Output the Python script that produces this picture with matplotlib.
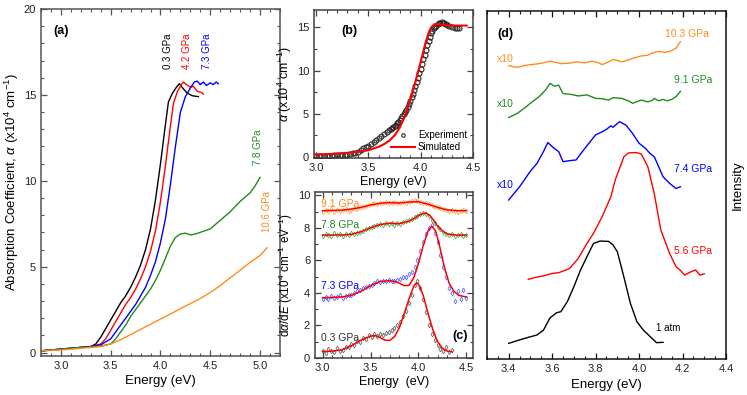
import numpy as np
import matplotlib
matplotlib.use('Agg')
import matplotlib.pyplot as plt
from matplotlib.ticker import MultipleLocator, NullLocator

plt.rcParams['font.family'] = ['Liberation Sans', 'DejaVu Sans']
plt.rcParams['mathtext.fontset'] = 'custom'
plt.rcParams['mathtext.rm'] = 'Liberation Sans'
plt.rcParams['mathtext.it'] = 'Liberation Sans:italic'

ORANGE = '#ff8c1a'
GREEN = '#1f8a1f'

# ---- panel (a): absorption coefficient vs energy
a_E_03 = [2.8, 3.0, 3.2, 3.3, 3.35, 3.4, 3.45, 3.5, 3.55, 3.6, 3.65, 3.7, 3.75, 3.8, 3.85,
          3.9, 3.95, 4.0, 4.05, 4.08, 4.12, 4.16, 4.19, 4.23, 4.27, 4.32, 4.38]
a_03 = [0.1, 0.2, 0.3, 0.35, 0.5, 0.9, 1.4, 1.9, 2.4, 2.9, 3.3, 3.8, 4.4, 5.1, 6.0,
        7.2, 8.9, 11.0, 13.3, 14.6, 15.1, 15.45, 15.65, 15.35, 15.1, 14.95, 14.9]
a_E_42 = [2.8, 3.0, 3.2, 3.3, 3.4, 3.45, 3.5, 3.55, 3.6, 3.65, 3.7, 3.75, 3.8, 3.85, 3.9,
          3.95, 4.0, 4.05, 4.1, 4.13, 4.17, 4.21, 4.23, 4.26, 4.3, 4.33, 4.37, 4.41, 4.43]
a_42 = [0.1, 0.2, 0.3, 0.35, 0.5, 0.8, 1.3, 1.8, 2.3, 2.8, 3.2, 3.7, 4.3, 5.0, 5.9,
        7.1, 8.8, 10.9, 13.2, 14.5, 15.2, 15.6, 15.75, 15.6, 15.45, 15.5, 15.2, 15.15, 15.05]
a_E_73 = [2.8, 3.0, 3.2, 3.3, 3.4, 3.5, 3.55, 3.6, 3.65, 3.7, 3.75, 3.8, 3.85, 3.9, 3.95,
          4.0, 4.05, 4.1, 4.15, 4.2, 4.25, 4.3, 4.34, 4.37, 4.4, 4.43, 4.46, 4.5, 4.53, 4.56, 4.58]
a_73 = [0.1, 0.2, 0.3, 0.35, 0.45, 0.8, 1.2, 1.6, 2.0, 2.4, 2.8, 3.3, 3.8, 4.5, 5.3,
        6.4, 7.8, 9.8, 12.0, 14.0, 14.9, 15.4, 15.75, 15.8, 15.6, 15.75, 15.55, 15.7, 15.6, 15.75, 15.65]
a_E_78 = [2.8, 3.0, 3.2, 3.3, 3.4, 3.5, 3.55, 3.6, 3.65, 3.7, 3.75, 3.8, 3.85, 3.9, 3.95, 4.0,
          4.05, 4.1, 4.15, 4.2, 4.25, 4.3, 4.35, 4.4, 4.5, 4.6, 4.7, 4.8, 4.9, 4.95, 5.0]
a_78 = [0.1, 0.2, 0.3, 0.32, 0.38, 0.5, 0.8, 1.2, 1.6, 2.1, 2.5, 2.9, 3.3, 3.7, 4.2, 4.8,
        5.5, 6.2, 6.7, 6.9, 6.95, 6.85, 6.9, 7.0, 7.2, 7.7, 8.2, 8.8, 9.3, 9.7, 10.2]
a_E_106 = [2.8, 3.0, 3.2, 3.4, 3.5, 3.6, 3.7, 3.8, 3.9, 4.0, 4.1, 4.2, 4.3, 4.4,
           4.5, 4.6, 4.7, 4.8, 4.9, 5.0, 5.07]
a_106 = [0.1, 0.15, 0.25, 0.35, 0.5, 0.75, 1.05, 1.35, 1.65, 1.95, 2.25, 2.55, 2.85, 3.15,
         3.5, 3.9, 4.35, 4.8, 5.25, 5.65, 6.1]

# ---- panel (b): experiment vs simulation, 0.3 GPa
b_E = [3.000, 3.025, 3.050, 3.075, 3.100, 3.125, 3.150, 3.175, 3.200, 3.225, 3.250, 3.275,
       3.300, 3.325, 3.350, 3.375, 3.400, 3.425, 3.450, 3.475, 3.500, 3.525, 3.550, 3.575,
       3.600, 3.625, 3.650, 3.675, 3.700, 3.7125, 3.725, 3.7375, 3.750, 3.7625, 3.775,
       3.7875, 3.800, 3.8125, 3.825, 3.8375, 3.850, 3.8625, 3.875, 3.8875, 3.900, 3.9125,
       3.925, 3.9375, 3.950, 3.9625, 3.975, 3.9875, 4.000, 4.0125, 4.025, 4.0375, 4.050,
       4.0625, 4.075, 4.0875, 4.100, 4.1125, 4.125, 4.1375, 4.150, 4.1625, 4.175, 4.1875,
       4.200, 4.2125, 4.225, 4.2375, 4.250, 4.275, 4.300, 4.325, 4.350, 4.370]
b_exp = [0.15, 0.15, 0.15, 0.15, 0.16, 0.17, 0.18, 0.19, 0.2, 0.22, 0.24, 0.27,
         0.3, 0.35, 0.42, 0.5, 0.6, 0.8, 1.0, 1.15, 1.3, 1.5, 1.75, 1.95,
         2.2, 2.4, 2.65, 2.85, 3.1, 3.22, 3.35, 3.47, 3.6, 3.75, 3.9,
         4.1, 4.3, 4.5, 4.7, 4.95, 5.2, 5.5, 5.8, 6.15, 6.5, 6.9,
         7.3, 7.75, 8.2, 8.7, 9.2, 9.7, 10.2, 10.75, 11.3, 11.85, 12.4,
         12.9, 13.4, 13.85, 14.3, 14.6, 14.9, 15.05, 15.2, 15.35, 15.45, 15.55,
         15.6, 15.55, 15.5, 15.4, 15.3, 15.1, 15.0, 14.95, 14.9, 14.9]
b_sim_E = [2.98, 3.1, 3.2, 3.3, 3.4, 3.5, 3.6, 3.65, 3.7, 3.75, 3.8, 3.85, 3.9, 3.95,
           4.0, 4.05, 4.08, 4.1, 4.13, 4.16, 4.2, 4.25, 4.3, 4.35, 4.44]
b_sim = [0.3, 0.35, 0.4, 0.5, 0.6, 0.8, 1.2, 1.5, 1.9, 2.5, 3.4, 4.8, 6.6, 8.7,
         11.0, 13.4, 14.5, 15.0, 15.35, 15.4, 15.3, 15.25, 15.2, 15.2, 15.2]

# ---- panel (c): derivative spectra (offset) with fits
c_E = [3.00, 3.03, 3.06, 3.09, 3.12, 3.15, 3.18, 3.21, 3.24, 3.27, 3.30, 3.33, 3.36, 3.39,
       3.42, 3.45, 3.48, 3.51, 3.54, 3.57, 3.60, 3.63, 3.66, 3.69, 3.72, 3.75, 3.78, 3.81,
       3.84, 3.87, 3.90, 3.93, 3.96, 3.99, 4.02, 4.05, 4.08, 4.11, 4.14, 4.17, 4.20, 4.23,
       4.26, 4.29, 4.32, 4.35, 4.38, 4.41, 4.44, 4.47, 4.50]
c_03 = [0.45, 0.30, 0.55, 0.40, 0.35, 0.60, 0.45, 0.50, 0.70, 0.65, 0.85, 0.80, 1.05, 1.00,
        1.25, 1.15, 1.40, 1.30, 1.45, 1.35, 1.50, 1.40, 1.55, 1.60, 1.75, 1.85, 2.00, 2.20,
        2.60, 2.90, 3.40, 3.90, 4.50, 4.70, 4.30, 3.60, 2.80, 2.00, 1.50, 1.10, 0.80, 0.55,
        0.45, 0.65, 0.35, 0.50]
c_73 = [3.6, 3.75, 3.65, 3.8, 3.7, 3.75, 3.85, 3.7, 3.8, 3.9, 3.85, 4.0, 4.1, 4.2,
        4.3, 4.35, 4.45, 4.5, 4.6, 4.7, 4.65, 4.75, 4.7, 4.8, 4.7, 4.75, 4.8, 4.85,
        4.95, 5.0, 5.15, 5.3, 5.6, 6.0, 6.6, 7.1, 7.6, 8.0, 8.2, 7.7, 7.1, 6.3,
        5.6, 5.0, 4.3, 4.0, 3.5, 4.1, 3.6, 4.2, 3.7]
c_78 = [7.5, 7.6, 7.55, 7.5, 7.65, 7.55, 7.6, 7.5, 7.6, 7.55, 7.65, 7.6, 7.7, 7.75,
        7.8, 7.9, 8.0, 8.05, 8.1, 8.2, 8.25, 8.2, 8.3, 8.25, 8.3, 8.2, 8.3, 8.25,
        8.35, 8.4, 8.45, 8.55, 8.65, 8.75, 8.85, 8.9, 8.85, 8.7, 8.5, 8.3, 8.05, 7.9,
        7.75, 7.6, 7.55, 7.6, 7.5, 7.55, 7.6, 7.5, 7.55]
c_91 = [9.0, 9.1, 9.05, 9.15, 9.0, 9.1, 9.05, 9.1, 9.15, 9.05, 9.1, 9.2, 9.15, 9.25,
        9.3, 9.35, 9.4, 9.45, 9.5, 9.45, 9.55, 9.5, 9.6, 9.55, 9.5, 9.6, 9.55, 9.5,
        9.6, 9.55, 9.6, 9.65, 9.7, 9.65, 9.6, 9.55, 9.5, 9.45, 9.4, 9.3, 9.25, 9.2,
        9.15, 9.1, 9.05, 9.1, 9.05, 9.0, 9.05, 9.1, 9.05]
fit03_E = [3.0, 3.1, 3.2, 3.3, 3.4, 3.5, 3.55, 3.6, 3.65, 3.7, 3.75, 3.8, 3.85, 3.9,
           3.95, 3.98, 4.0, 4.05, 4.1, 4.15, 4.2, 4.25, 4.3, 4.35]
fit03 = [0.4, 0.42, 0.5, 0.75, 1.1, 1.35, 1.38, 1.25, 1.1, 1.08, 1.3, 1.85, 2.7, 3.6,
         4.4, 4.62, 4.55, 3.85, 2.75, 1.75, 1.0, 0.6, 0.42, 0.38]
fit73_E = [3.0, 3.1, 3.2, 3.3, 3.4, 3.5, 3.6, 3.7, 3.75, 3.8, 3.85, 3.9, 3.95, 4.0,
           4.05, 4.1, 4.14, 4.18, 4.22, 4.27, 4.32, 4.37, 4.42, 4.5]
fit73 = [3.7, 3.72, 3.75, 3.85, 4.1, 4.45, 4.7, 4.75, 4.7, 4.6, 4.45, 4.45, 4.9, 5.8,
         6.9, 7.8, 8.1, 7.8, 6.9, 5.6, 4.6, 4.1, 3.85, 3.75]
fit78_E = [3.0, 3.2, 3.3, 3.4, 3.5, 3.6, 3.7, 3.8, 3.9, 3.95, 4.0, 4.05, 4.08, 4.12,
           4.16, 4.2, 4.25, 4.3, 4.4, 4.5]
fit78 = [7.55, 7.56, 7.6, 7.75, 8.0, 8.2, 8.28, 8.25, 8.4, 8.55, 8.75, 8.88, 8.9, 8.75,
         8.45, 8.1, 7.8, 7.62, 7.55, 7.55]
fit91_E = [3.0, 3.2, 3.3, 3.4, 3.5, 3.6, 3.7, 3.8, 3.9, 4.0, 4.1, 4.2, 4.3, 4.4, 4.5]
fit91 = [9.05, 9.08, 9.15, 9.25, 9.4, 9.5, 9.55, 9.52, 9.58, 9.6, 9.45, 9.25, 9.1, 9.05, 9.05]

# ---- panel (d): emission spectra (arb. units, offset)
d_E_1atm = [3.40, 3.45, 3.50, 3.53, 3.56, 3.59, 3.62, 3.64, 3.67, 3.70, 3.73, 3.76, 3.79,
            3.82, 3.86, 3.88, 3.90, 3.93, 3.96, 3.99, 4.02, 4.06, 4.08, 4.11]
d_1atm = [4.5, 5.5, 6.4, 6.9, 8.3, 11.8, 13.3, 13.6, 16.5, 20.8, 25.5, 29.4, 33.2,
          33.9, 33.8, 32.8, 30.8, 23.6, 16.0, 10.7, 8.3, 5.9, 4.7, 4.8]
d_E_56 = [3.49, 3.52, 3.56, 3.60, 3.63, 3.68, 3.72, 3.76, 3.79, 3.83, 3.87, 3.89, 3.93,
          3.95, 3.97, 3.99, 4.01, 4.04, 4.07, 4.10, 4.14, 4.17, 4.19, 4.21, 4.23, 4.24,
          4.26, 4.28, 4.30]
d_56 = [22.9, 23.4, 23.9, 24.6, 24.8, 26.0, 28.9, 33.2, 36.1, 40.9, 46.6, 51.4, 58.1,
        59.2, 59.3, 59.3, 58.9, 55.3, 47.5, 37.1, 30.4, 26.5, 25.5, 24.1, 24.8, 25.1,
        25.6, 24.1, 24.5]
d_E_74 = [3.40, 3.45, 3.50, 3.53, 3.56, 3.58, 3.61, 3.63, 3.65, 3.68, 3.71, 3.75, 3.80,
          3.83, 3.85, 3.87, 3.88, 3.91, 3.94, 3.97, 4.00, 4.03, 4.05, 4.07, 4.09, 4.11,
          4.14, 4.17, 4.19]
d_74 = [45.7, 49.5, 54.0, 56.2, 59.6, 62.2, 60.5, 59.6, 56.7, 57.0, 57.2, 60.5, 64.4,
        65.3, 66.0, 67.0, 66.6, 68.2, 67.2, 64.8, 62.0, 60.5, 59.1, 58.1, 55.3, 52.4,
        50.5, 49.0, 49.5]
d_E_91 = [3.40, 3.44, 3.47, 3.50, 3.54, 3.57, 3.59, 3.61, 3.63, 3.65, 3.69, 3.72, 3.76,
          3.80, 3.83, 3.86, 3.88, 3.92, 3.95, 3.97, 4.01, 4.04, 4.06, 4.07, 4.09, 4.11,
          4.13, 4.15, 4.17, 4.19]
d_91 = [69.4, 70.6, 72.0, 73.5, 75.4, 77.3, 79.2, 78.4, 78.7, 76.3, 76.0, 75.6, 75.9,
        74.9, 74.8, 74.4, 75.1, 74.9, 74.2, 73.5, 74.4, 73.9, 74.3, 74.9, 74.2, 74.6,
        74.2, 74.6, 75.4, 76.9]
d_E_103 = [3.40, 3.42, 3.44, 3.47, 3.49, 3.53, 3.56, 3.59, 3.62, 3.64, 3.68, 3.71, 3.75,
           3.78, 3.81, 3.83, 3.86, 3.88, 3.90, 3.92, 3.95, 3.97, 4.01, 4.04, 4.06, 4.09,
           4.12, 4.14, 4.17, 4.19]
d_103 = [84.3, 84.0, 83.8, 84.3, 84.5, 84.8, 85.1, 85.6, 85.2, 84.9, 85.0, 85.4, 85.1,
         85.6, 85.2, 84.6, 85.4, 86.1, 85.8, 85.4, 85.9, 86.4, 87.1, 87.3, 87.9, 88.4,
         88.1, 88.4, 89.3, 91.2]


def style_axis(ax, spine_color='#404040'):
    for s in ax.spines.values():
        s.set_color(spine_color)
        s.set_linewidth(1.1)
    ax.tick_params(which='both', direction='in', top=True, right=True,
                   colors=spine_color, labelcolor='#222222', labelsize=8)
    ax.tick_params(which='major', length=4, width=0.9)
    ax.tick_params(which='minor', length=2, width=0.8)


fig = plt.figure(figsize=(7.47, 3.95), dpi=100)

# (a)
ax_a = fig.add_axes([0.0549, 0.0987, 0.3199, 0.8785])
ax_a.plot(a_E_03, a_03, color='black', lw=1.0)
ax_a.plot(a_E_42, a_42, color='red', lw=1.0)
ax_a.plot(a_E_73, a_73, color='blue', lw=1.0)
ax_a.plot(a_E_78, a_78, color=GREEN, lw=1.0)
ax_a.plot(a_E_106, a_106, color=ORANGE, lw=1.0)
ax_a.set_xlim(2.8, 5.2)
ax_a.set_ylim(-0.2, 20)
ax_a.xaxis.set_major_locator(MultipleLocator(0.5))
ax_a.xaxis.set_minor_locator(MultipleLocator(0.1))
ax_a.yaxis.set_major_locator(MultipleLocator(5))
ax_a.yaxis.set_minor_locator(MultipleLocator(1))
style_axis(ax_a, '#555555')
ax_a.set_xlabel('Energy (eV)', fontsize=9.5, labelpad=3)
ax_a.set_ylabel(r'Absorption Coefficient, $\alpha$ (x10$^4$ cm$^{-1}$)', fontsize=9.5, labelpad=2)
ax_a.text(0.05, 0.955, '(a)', transform=ax_a.transAxes, fontsize=9, fontweight='bold', va='top')
ax_a.text(4.08, 16.5, '0.3 GPa', rotation=90, color='black', fontsize=7, ha='center', va='bottom')
ax_a.text(4.27, 16.5, '4.2 GPa', rotation=90, color='red', fontsize=7, ha='center', va='bottom')
ax_a.text(4.47, 16.5, '7.3 GPa', rotation=90, color='blue', fontsize=7, ha='center', va='bottom')
ax_a.text(4.98, 10.9, '7.8 GPa', rotation=90, color=GREEN, fontsize=7, ha='center', va='bottom')
ax_a.text(5.07, 7.0, '10.6 GPa', rotation=90, color=ORANGE, fontsize=7, ha='center', va='bottom')

# (b)
ax_b = fig.add_axes([0.4203, 0.6, 0.2129, 0.3747])
ax_b.plot(b_E, b_exp, 'o', ms=3.6, mfc='none', mec='#2a2a2a', mew=0.8, label='Experiment')
ax_b.plot(b_sim_E, b_sim, color='red', lw=1.5, label='Simulated')
ax_b.set_xlim(2.98, 4.5)
ax_b.set_ylim(-0.1, 17)
ax_b.xaxis.set_major_locator(MultipleLocator(0.5))
ax_b.xaxis.set_minor_locator(MultipleLocator(0.1))
ax_b.yaxis.set_major_locator(MultipleLocator(5))
ax_b.yaxis.set_minor_locator(MultipleLocator(2.5))
style_axis(ax_b)
ax_b.set_xlabel('Energy (eV)', fontsize=9, labelpad=2)
ax_b.set_ylabel(r'$\alpha$ (x10$^4$ cm$^{-1}$)', fontsize=9, labelpad=2)
ax_b.text(0.17, 0.9, '(b)', transform=ax_b.transAxes, fontsize=9, fontweight='bold', va='top')
leg = ax_b.legend(loc='lower right', frameon=False, fontsize=7, handlelength=2.5,
                  handletextpad=0.3, borderaxespad=0.2, labelspacing=0.2, markerscale=0.7)

# (c)
ax_c = fig.add_axes([0.4217, 0.0937, 0.2115, 0.4203])
mk = dict(marker='d', ls='none', ms=2.4, mfc='none', mew=0.6, alpha=0.8)
ax_c.plot(c_E[:len(c_03)], c_03, mec='#444444', **mk)
ax_c.plot(c_E, c_73, mec='#3344ff', **mk)
ax_c.plot(c_E, c_78, mec='#33a033', **mk)
ax_c.plot(c_E, c_91, mec='#ff9933', **mk)
for fx, fy in [(fit03_E, fit03), (fit73_E, fit73), (fit78_E, fit78), (fit91_E, fit91)]:
    ax_c.plot(fx, fy, color='red', lw=1.1)
ax_c.set_xlim(2.92, 4.57)
ax_c.set_ylim(0, 10.2)
ax_c.xaxis.set_major_locator(MultipleLocator(0.5))
ax_c.xaxis.set_minor_locator(MultipleLocator(0.1))
ax_c.yaxis.set_major_locator(MultipleLocator(2))
ax_c.yaxis.set_minor_locator(MultipleLocator(1))
style_axis(ax_c)
ax_c.set_xlabel('Energy  (eV)', fontsize=9, labelpad=2)
ax_c.set_ylabel(r'd$\alpha$/d$E$ (x10$^4$ cm$^{-1}$ eV$^{-1}$)', fontsize=8.5, labelpad=2)
ax_c.text(2.98, 1.2, '0.3 GPa', fontsize=7.5, color='#333333', va='center')
ax_c.text(2.98, 4.45, '7.3 GPa', fontsize=7.5, color='blue', va='center')
ax_c.text(2.98, 8.15, '7.8 GPa', fontsize=7.5, color=GREEN, va='center')
ax_c.text(2.98, 9.45, '9.1 GPa', fontsize=7.5, color=ORANGE, va='center')
ax_c.text(0.97, 0.13, '(c)', transform=ax_c.transAxes, fontsize=9, fontweight='bold',
          ha='right', va='center')

# (d)
ax_d = fig.add_axes([0.6519, 0.0911, 0.32, 0.881])
ax_d.plot(d_E_1atm, d_1atm, color='black', lw=1.0)
ax_d.plot(d_E_56, d_56, color='red', lw=1.0)
ax_d.plot(d_E_74, d_74, color='blue', lw=1.0)
ax_d.plot(d_E_91, d_91, color=GREEN, lw=1.0)
ax_d.plot(d_E_103, d_103, color=ORANGE, lw=1.0)
ax_d.set_xlim(3.3, 4.4)
ax_d.set_ylim(0, 100)
ax_d.xaxis.set_major_locator(MultipleLocator(0.2))
ax_d.xaxis.set_minor_locator(MultipleLocator(0.05))
ax_d.yaxis.set_major_locator(NullLocator())
style_axis(ax_d, '#111111')
ax_d.tick_params(which='both', left=False, right=False)
ax_d.set_xlabel('Energy (eV)', fontsize=9.5, labelpad=4)
ax_d.yaxis.set_label_position('right')
ax_d.set_ylabel('Intensity', fontsize=9.5, labelpad=4)
ax_d.text(0.045, 0.95, '(d)', transform=ax_d.transAxes, fontsize=9, fontweight='bold', va='top')
ax_d.text(4.08, 9.0, '1 atm', fontsize=7, color='black', va='center')
ax_d.text(4.16, 31.0, '5.6 GPa', fontsize=7.5, color='red', va='center')
ax_d.text(4.16, 54.5, '7.4 GPa', fontsize=7.5, color='blue', va='center')
ax_d.text(4.16, 80.3, '9.1 GPa', fontsize=7.5, color=GREEN, va='center')
ax_d.text(4.12, 93.3, '10.3 GPa', fontsize=7.5, color=ORANGE, va='center')
ax_d.text(3.345, 50.0, 'x10', fontsize=7.5, color='blue', va='center')
ax_d.text(3.345, 73.3, 'x10', fontsize=7.5, color=GREEN, va='center')
ax_d.text(3.345, 86.2, 'x10', fontsize=7.5, color=ORANGE, va='center')

fig.savefig('out.png', dpi=100)
